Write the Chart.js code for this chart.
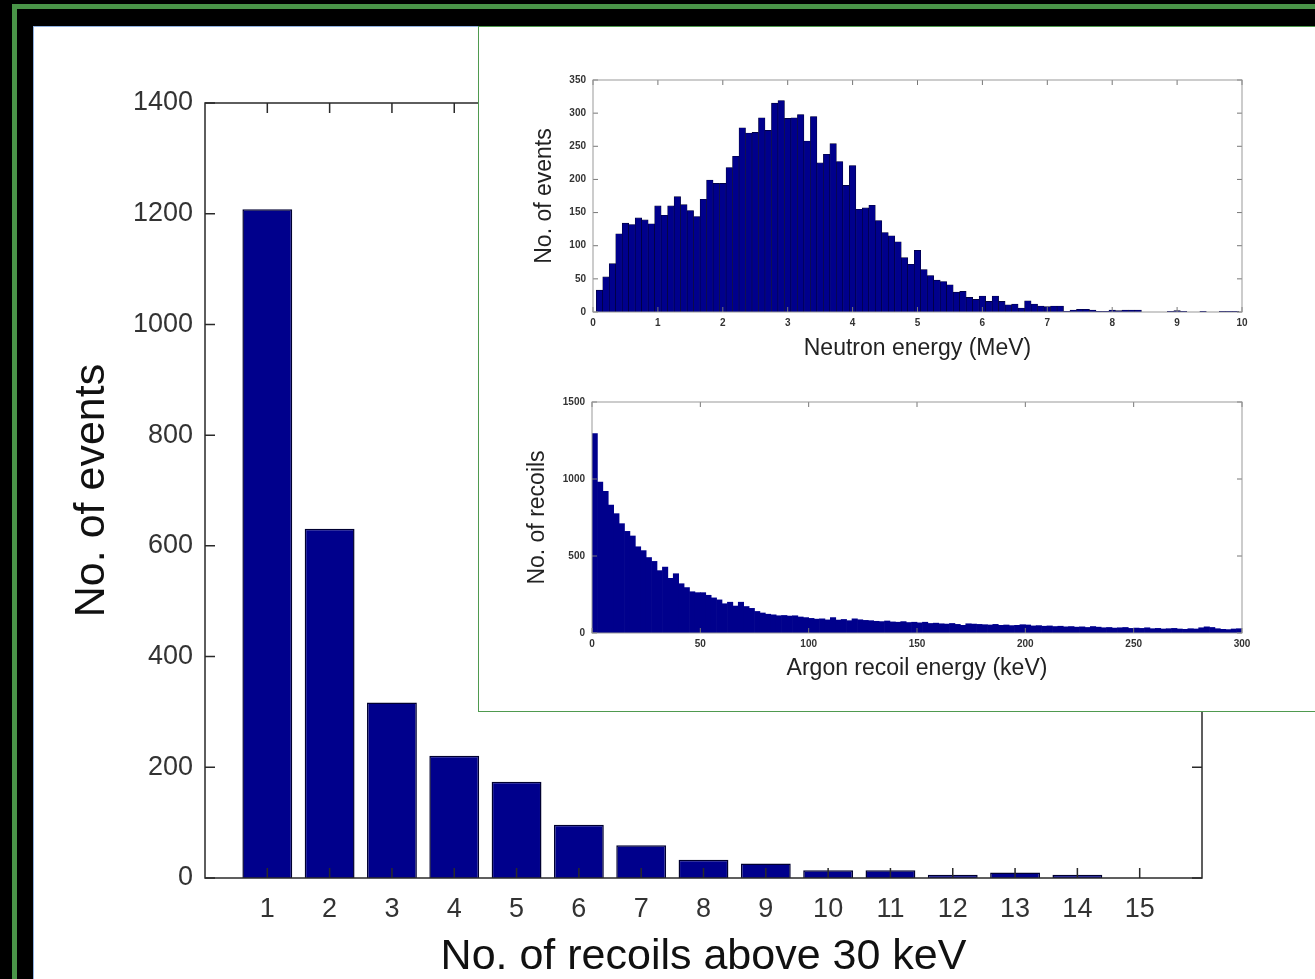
<!DOCTYPE html>
<html>
<head>
<meta charset="utf-8">
<title>Recoil multiplicity</title>
<script src="https://cdn.jsdelivr.net/npm/chart.js@4.4.1/dist/chart.umd.min.js"></script>
<style>
  html, body { margin: 0; padding: 0; width: 1315px; height: 979px; overflow: hidden; background: #000; }
  #frame { position: absolute; left: 12px; top: 4px; width: 1400px; height: 1100px; border: 5px solid #4a9448; }
  #panel { position: absolute; left: 33px; top: 26px; width: 1300px; height: 1000px; background: #fff;
           border-left: 1px solid #8fb0df; border-top: 1px solid #8fb0df; }
  #main { position: absolute; left: 34px; top: 27px; }
  #inset { position: absolute; left: 478px; top: 26px; width: 860px; height: 684px; background: #fff;
           border: 1.5px solid #4f9a4f; }
  #neutron { position: absolute; left: 479px; top: 40px; }
  #argon { position: absolute; left: 479px; top: 370px; }
</style>
</head>
<body>
<div id="frame"></div>
<div id="panel"></div>
<canvas id="main" width="1281" height="952"></canvas>
<div id="inset"></div>
<canvas id="neutron" width="836" height="330"></canvas>
<canvas id="argon" width="836" height="330"></canvas>
<script>
// number of recoils above 30 keV per event
const recoilBins = [1, 2, 3, 4, 5, 6, 7, 8, 9, 10, 11, 12, 13, 14, 15];
const recoilCounts = [1208, 631, 317, 221, 174, 96, 59, 33, 26, 14, 14, 6, 10, 6, 0];

// neutron energy spectrum, 0.1 MeV bins centred on 0.1, 0.2, ... 9.9 MeV
const neutronBinWidth = 0.1;
const neutronCounts = [
    33, 53, 73, 118, 134, 132, 142, 139, 133, 160,
    146, 160, 174, 162, 153, 144, 170, 199, 194, 194,
    218, 235, 278, 270, 271, 293, 274, 315, 319, 292,
    293, 298, 258, 295, 225, 238, 254, 227, 191, 221,
    155, 157, 161, 138, 120, 115, 106, 82, 72, 93,
    64, 55, 48, 46, 41, 30, 31, 22, 19, 24,
    16, 24, 16, 11, 12, 6, 17, 12, 9, 8,
    9, 9, 1, 3, 4, 4, 3, 1, 1, 3,
    2, 3, 3, 3, 0, 0, 0, 0, 1, 2,
    1, 0, 0, 1, 0, 0, 1, 1, 1
];

// argon recoil energy spectrum, 2.5 keV bins from 0 to 300 keV
const argonBinWidth = 2.5;
const argonCounts = [
    1295, 980, 920, 830, 775, 710, 660, 630, 560, 535,
    490, 465, 405, 428, 355, 385, 320, 295, 268, 262,
    262, 245, 228, 215, 190, 200, 175, 200, 172, 160,
    140, 130, 122, 118, 112, 114, 110, 112, 104, 100,
    95, 90, 92, 85, 100, 84, 88, 80, 92, 86,
    82, 80, 76, 74, 78, 72, 70, 74, 68, 70,
    66, 70, 62, 64, 60, 58, 62, 56, 50, 60,
    58, 56, 54, 52, 56, 50, 52, 48, 50, 54,
    52, 46, 48, 44, 46, 42, 44, 40, 42, 38,
    40, 36, 42, 38, 34, 36, 32, 34, 36, 30,
    32, 30, 34, 28, 30, 26, 28, 30, 26, 24,
    28, 26, 34, 40, 36, 28, 24, 22, 26, 28
];

const FONT = "'Liberation Sans', Arial, Helvetica, sans-serif";
const BAR_BLUE = '#00008c';

// box round the plot area with ticks pointing inwards on all four sides
const boxTicks = {
    id: 'boxTicks',
    afterDatasetsDraw(chart, args, opts) {
        const { ctx, chartArea: a, scales: { x, y } } = chart;
        ctx.save();
        ctx.strokeStyle = opts.color;
        ctx.lineWidth = opts.lineWidth;
        ctx.beginPath();
        x.ticks.forEach(t => {
            const px = x.getPixelForValue(t.value);
            ctx.moveTo(px, a.bottom); ctx.lineTo(px, a.bottom - opts.len);
            ctx.moveTo(px, a.top); ctx.lineTo(px, a.top + opts.len);
        });
        y.ticks.forEach(t => {
            const py = y.getPixelForValue(t.value);
            ctx.moveTo(a.left, py); ctx.lineTo(a.left + opts.len, py);
            ctx.moveTo(a.right, py); ctx.lineTo(a.right - opts.len, py);
        });
        ctx.stroke();
        ctx.strokeStyle = opts.boxColor || opts.color;
        ctx.strokeRect(a.left, a.top, a.right - a.left, a.bottom - a.top);
        ctx.restore();
    }
};

const plain = v => String(v);

function histogram(id, counts, binWidth, firstCenter, cfg) {
    const points = counts.map((v, i) => ({ x: firstCenter + i * binWidth, y: v }));
    return new Chart(document.getElementById(id), {
        type: 'bar',
        data: {
            datasets: [{
                data: points,
                backgroundColor: BAR_BLUE,
                borderColor: '#000030',
                borderWidth: cfg.edge,
                barPercentage: 1,
                categoryPercentage: 1
            }]
        },
        options: {
            responsive: false,
            animation: false,
            layout: { padding: { top: cfg.top, right: 73, left: 0, bottom: 0 } },
            plugins: {
                legend: { display: false },
                tooltip: { enabled: false },
                boxTicks: { len: 5, color: '#777', boxColor: '#999', lineWidth: 1 }
            },
            scales: {
                x: {
                    type: 'linear', min: 0, max: cfg.xMax, offset: false,
                    grid: { display: false, drawTicks: false },
                    border: { display: false },
                    ticks: { stepSize: cfg.xStep, callback: plain, padding: 5, maxRotation: 0,
                             color: '#333', font: { family: FONT, size: 10, weight: 'bold' } },
                    title: { display: true, text: cfg.xTitle, color: '#222',
                             font: { family: FONT, size: 23, lineHeight: 1 },
                             padding: { top: 0, bottom: cfg.xTitlePad } },
                    afterFit: s => { s.height = cfg.xHeight; }
                },
                y: {
                    min: 0, max: cfg.yMax,
                    grid: { display: false, drawTicks: false },
                    border: { display: false },
                    ticks: { stepSize: cfg.yStep, callback: plain, padding: 7,
                             color: '#333', font: { family: FONT, size: 10, weight: 'bold' } },
                    title: { display: true, text: cfg.yTitle, color: '#222',
                             font: { family: FONT, size: 23, lineHeight: 1 },
                             padding: { top: cfg.yTitlePad, bottom: 0 } },
                    afterFit: s => { s.width = cfg.yWidth; }
                }
            }
        },
        plugins: [boxTicks]
    });
}

new Chart(document.getElementById('main'), {
    type: 'bar',
    data: {
        datasets: [{
            data: recoilCounts.map((v, i) => ({ x: recoilBins[i], y: v })),
            backgroundColor: BAR_BLUE,
            borderColor: '#000030',
            borderWidth: 1.5,
            barPercentage: 0.8,
            categoryPercentage: 1
        }]
    },
    options: {
        responsive: false,
        animation: false,
        layout: { padding: { top: 76, right: 113, left: 0, bottom: 0 } },
        plugins: {
            legend: { display: false },
            tooltip: { enabled: false },
            boxTicks: { len: 10, color: '#2a2a2a', lineWidth: 1.5 }
        },
        scales: {
            x: {
                type: 'linear', min: 0, max: 16, offset: false,
                afterBuildTicks: s => { s.ticks = recoilBins.map(v => ({ value: v })); },
                grid: { display: false, drawTicks: false },
                border: { display: false },
                ticks: { callback: plain, padding: 15, autoSkip: false, maxRotation: 0,
                         color: '#333', font: { family: FONT, size: 27 } },
                title: { display: true, text: 'No. of recoils above 30 keV', color: '#111',
                         font: { family: FONT, size: 43, lineHeight: 1 },
                         padding: { top: 0, bottom: 0 } },
                afterFit: s => { s.height = 101; }
            },
            y: {
                min: 0, max: 1400,
                grid: { display: false, drawTicks: false },
                border: { display: false },
                ticks: { stepSize: 200, callback: plain, padding: 12,
                         color: '#333', font: { family: FONT, size: 27 } },
                title: { display: true, text: 'No. of events', color: '#111',
                         font: { family: FONT, size: 43, lineHeight: 1 },
                         padding: { top: 36.5, bottom: 0 } },
                afterFit: s => { s.width = 171; }
            }
        }
    },
    plugins: [boxTicks]
});

histogram('neutron', neutronCounts, neutronBinWidth, neutronBinWidth, {
    edge: 0.6, top: 40, xMax: 10, xStep: 1, yMax: 350, yStep: 50,
    xTitle: 'Neutron energy (MeV)', yTitle: 'No. of events',
    xHeight: 58, xTitlePad: 9.5, yWidth: 114, yTitlePad: 54.5
});

histogram('argon', argonCounts, argonBinWidth, argonBinWidth / 2, {
    edge: 0, top: 32, xMax: 300, xStep: 50, yMax: 1500, yStep: 500,
    xTitle: 'Argon recoil energy (keV)', yTitle: 'No. of recoils',
    xHeight: 67, xTitlePad: 19.5, yWidth: 113, yTitlePad: 47.5
});
</script>
</body>
</html>
